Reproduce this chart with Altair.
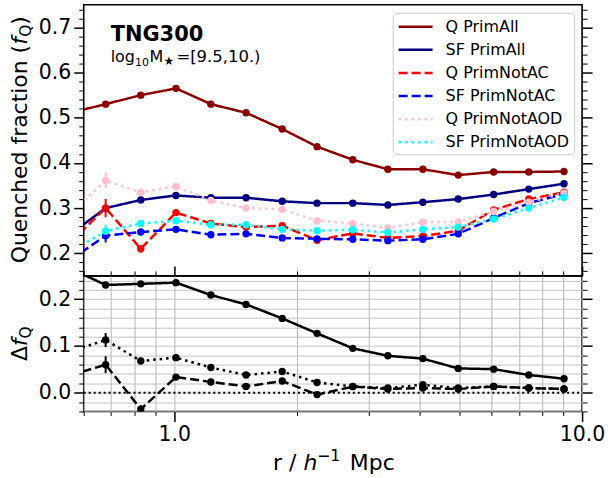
import altair as alt
import pandas as pd

# ---------------- data ----------------
r = [0.556, 0.679, 0.828, 1.01, 1.23, 1.50, 1.84, 2.24, 2.74, 3.34, 4.07, 4.97, 6.07, 7.40, 9.03]

q_primall = [0.511, 0.530, 0.550, 0.565, 0.530, 0.511, 0.475, 0.436, 0.407, 0.386, 0.386, 0.373, 0.380, 0.380, 0.381]
sf_primall = [0.242, 0.300, 0.318, 0.328, 0.323, 0.323, 0.315, 0.311, 0.311, 0.307, 0.313, 0.320, 0.330, 0.342, 0.354]
q_primnotac = [0.224, 0.300, 0.210, 0.290, 0.266, 0.258, 0.261, 0.229, 0.244, 0.234, 0.238, 0.250, 0.296, 0.320, 0.335]
sf_primnotac = [0.185, 0.239, 0.247, 0.253, 0.241, 0.243, 0.234, 0.232, 0.231, 0.228, 0.231, 0.243, 0.278, 0.311, 0.331]
q_primnotaod = [0.288, 0.361, 0.335, 0.348, 0.317, 0.300, 0.297, 0.272, 0.266, 0.256, 0.269, 0.269, 0.293, 0.313, 0.333]
sf_primnotaod = [0.203, 0.249, 0.266, 0.272, 0.263, 0.263, 0.253, 0.250, 0.252, 0.246, 0.253, 0.258, 0.276, 0.300, 0.324]

err_q_primall = [0.005, 0.006, 0.005, 0.005, 0.004, 0.004, 0.004, 0.004, 0.004, 0.004, 0.004, 0.004, 0.004, 0.004, 0.004]
err_sf_primall = [0.005, 0.006, 0.005, 0.005, 0.004, 0.004, 0.004, 0.004, 0.004, 0.004, 0.004, 0.004, 0.004, 0.004, 0.004]
err_q_primnotac = [0.015, 0.020, 0.008, 0.007, 0.005, 0.005, 0.005, 0.005, 0.004, 0.004, 0.004, 0.004, 0.004, 0.004, 0.004]
err_sf_primnotac = [0.012, 0.015, 0.006, 0.006, 0.005, 0.005, 0.004, 0.004, 0.004, 0.004, 0.004, 0.004, 0.004, 0.004, 0.004]
err_q_primnotaod = [0.015, 0.018, 0.008, 0.007, 0.005, 0.005, 0.005, 0.005, 0.004, 0.004, 0.004, 0.004, 0.004, 0.004, 0.004]
err_sf_primnotaod = [0.010, 0.013, 0.006, 0.005, 0.005, 0.004, 0.004, 0.004, 0.004, 0.004, 0.004, 0.004, 0.004, 0.004, 0.004]

d_primall = [0.266, 0.2305, 0.233, 0.2355, 0.209, 0.189, 0.159, 0.127, 0.095, 0.079, 0.073, 0.052, 0.0505, 0.038, 0.030]
d_primnotac = [0.037, 0.060, -0.035, 0.0335, 0.023, 0.0135, 0.025, -0.004, 0.013, 0.008, 0.010, 0.008, 0.0135, 0.010, 0.008]
d_primnotaod = [0.088, 0.113, 0.068, 0.075, 0.054, 0.038, 0.0455, 0.022, 0.0135, 0.010, 0.017, 0.010, 0.0135, 0.010, 0.008]

err_d_primall = [0.005, 0.005, 0.004, 0.007, 0.004, 0.004, 0.004, 0.004, 0.004, 0.004, 0.004, 0.004, 0.004, 0.004, 0.004]
err_d_primnotac = [0.015, 0.018, 0.008, 0.006, 0.005, 0.005, 0.005, 0.005, 0.005, 0.005, 0.005, 0.005, 0.004, 0.004, 0.004]
err_d_primnotaod = [0.012, 0.015, 0.007, 0.006, 0.005, 0.005, 0.005, 0.005, 0.005, 0.005, 0.005, 0.005, 0.004, 0.004, 0.004]

series_top = ["Q PrimAll", "SF PrimAll", "Q PrimNotAC", "SF PrimNotAC", "Q PrimNotAOD", "SF PrimNotAOD"]
values_top = [q_primall, sf_primall, q_primnotac, sf_primnotac, q_primnotaod, sf_primnotaod]
errors_top = [err_q_primall, err_sf_primall, err_q_primnotac, err_sf_primnotac, err_q_primnotaod, err_sf_primnotaod]
colors_top = ["#8b0000", "#000080", "#ff0000", "#0000ff", "#ffc0cb", "#00ffff"]
dashes_top = [[1, 0], [1, 0], [9, 4], [9, 4], [2.5, 4], [2.5, 4]]

series_bot = ["PrimAll", "PrimNotAC", "PrimNotAOD"]
values_bot = [d_primall, d_primnotac, d_primnotaod]
errors_bot = [err_d_primall, err_d_primnotac, err_d_primnotaod]
dashes_bot = [[1, 0], [9, 4], [2.5, 4]]

x_ticks = [0.6, 0.7, 0.8, 0.9, 1, 2, 3, 4, 5, 6, 7, 8, 9, 10]
y_ticks_top = [round(i * 0.02, 2) for i in range(8, 38)]
y_ticks_bot = [round(i * 0.02, 2) for i in range(-2, 13)]

# ---------------- tables ----------------
rows = []
for s, vals, errs in zip(series_top, values_top, errors_top):
    for ri, v, e in zip(r, vals, errs):
        rows.append({"r": ri, "f": v, "err": e, "series": s})
top_df = pd.DataFrame(rows)

rows = []
for s, vals, errs in zip(series_bot, values_bot, errors_bot):
    for ri, v, e in zip(r, vals, errs):
        rows.append({"r": ri, "d": v, "err": e, "series": s})
bot_df = pd.DataFrame(rows)

one = pd.DataFrame({"k": [0]})

FONT = "DejaVu Sans"
W, HT, HB = 500, 272, 136

MAJ_Y = "abs(datum.value*10 - round(datum.value*10)) < 1e-6"
MAJ_X = "abs(datum.value-1) < 1e-6 || abs(datum.value-10) < 1e-6"


def cond(test, a, b):
    return {"condition": {"test": test, "value": a}, "value": b}


xs = alt.Scale(type="log", domain=[0.6, 10], nice=False)
ys_top = alt.Scale(domain=[0.15, 0.75], nice=False, zero=False)
ys_bot = alt.Scale(domain=[-0.04, 0.25], nice=False, zero=False)


def make_yaxis(values, orient, labels, grid=False):
    return alt.Axis(
        orient=orient, values=values, title=None, domain=False,
        labels=labels,
        labelExpr=f"{MAJ_Y} ? format(datum.value, '.1f') : ''",
        labelFontSize=cond(MAJ_Y, 20.5, 1), labelFont=FONT, labelColor="black", labelPadding=3,
        labelOverlap=False, labelBound=False,
        tickColor="black", tickSize=cond(MAJ_Y, 10, 5), tickWidth=cond(MAJ_Y, 1.5, 1),
        grid=grid, gridColor="#c4c4c4", gridWidth=1,
    )


def make_xaxis(orient, labels, grid=False, minor=4):
    return alt.Axis(
        orient=orient, values=x_ticks, title=None, domain=False,
        labels=labels,
        labelExpr="abs(datum.value-1) < 1e-6 ? '1.0' : (abs(datum.value-10) < 1e-6 ? '10.0' : '')",
        labelFontSize=cond(MAJ_X, 20.5, 1), labelFont=FONT, labelColor="black", labelPadding=3,
        labelOverlap=False, labelBound=False, labelFlush=False,
        tickColor="black", tickSize=cond(MAJ_X, 10, minor), tickWidth=cond(MAJ_X, 1.5, 1),
        grid=grid, gridColor="#b4b4b4", gridWidth=1,
    )


def txt(text, x, y, size, angle=0, **kw):
    return alt.Chart(one).mark_text(
        text=text, align="left", baseline="alphabetic", fontSize=size, font=FONT,
        color="black", angle=angle, **kw
    ).encode(x=alt.value(x), y=alt.value(y))


legend = alt.Legend(
    title=None, orient="none", legendX=310, legendY=8, direction="vertical",
    fillColor="rgba(255,255,255,0.85)", strokeColor="#cccccc", cornerRadius=4, padding=4,
    symbolType="M-2,0H2", symbolSize=289, symbolStrokeWidth=2.5, symbolOffset=9,
    labelFontSize=16, labelFont=FONT, labelColor="black", rowPadding=5.2, labelOffset=20,
    labelLimit=300,
)

# ---------------- top panel ----------------
tb = alt.Chart(top_df)
x_top = alt.X("r:Q", scale=xs, axis=None)
color_scale_top = alt.Scale(domain=series_top, range=colors_top)
color_top = alt.Color("series:N", scale=color_scale_top, legend=legend)
dash_top = alt.StrokeDash("series:N", scale=alt.Scale(domain=series_top, range=dashes_top), legend=legend)

top_lines = tb.mark_line(strokeWidth=2.5, clip=True).encode(
    x=x_top,
    y=alt.Y("f:Q", scale=ys_top, axis=make_yaxis(y_ticks_top, "left", True)),
    color=color_top, strokeDash=dash_top,
)
top_err = tb.transform_calculate(lo="datum.f - datum.err", hi="datum.f + datum.err").mark_rule(
    strokeWidth=2, clip=True
).encode(x=x_top, y=alt.Y("lo:Q", scale=ys_top, axis=None), y2="hi:Q", color=color_top)

top_pts = tb.mark_circle(size=55, opacity=1, clip=True).encode(
    x=x_top, y=alt.Y("f:Q", scale=ys_top, axis=None), color=color_top
)
top_right = tb.mark_point(opacity=0, clip=True).encode(
    x=x_top, y=alt.Y("f:Q", scale=ys_top, axis=make_yaxis(y_ticks_top, "right", False))
)

top_texts = [
    txt("TNG300", 27, 36, 21, fontWeight="bold"),
    txt("log", 27, 57, 16),
    txt("10", 51.5, 61, 11),
    txt("M", 66, 57, 16),
    txt("★", 80, 60, 12),
    txt("=[9.5,10.)", 93, 57, 16.5),
    # y title: Quenched fraction (f_Q)
    txt("Quenched fraction (", -57, 259.4, 22, angle=270),
    txt("f", -57, 40.0, 22, angle=270, fontStyle="italic"),
    txt("Q", -53, 32.0, 15.4, angle=270),
    txt(")", -57, 20.0, 22, angle=270),
]

top = alt.layer(top_lines, top_err, top_pts, top_right, *top_texts).resolve_axis(
    y="independent"
).properties(width=W, height=HT)

# ---------------- bottom panel ----------------
bb = alt.Chart(bot_df)
dash_bot = alt.StrokeDash("series:N", scale=alt.Scale(domain=series_bot, range=dashes_bot), legend=None)

bot_zero = alt.Chart(one).mark_rule(strokeDash=[2, 3], strokeWidth=2, color="black").encode(
    y=alt.YDatum(0, scale=ys_bot, axis=None), x=alt.value(0), x2=alt.value(W)
)
bot_err = bb.transform_calculate(lo="datum.d - datum.err", hi="datum.d + datum.err").mark_rule(
    strokeWidth=2, clip=True, color="black"
).encode(x=alt.X("r:Q", scale=xs, axis=None), y=alt.Y("lo:Q", scale=ys_bot, axis=None), y2="hi:Q")

bot_lines = bb.mark_line(strokeWidth=2.5, clip=True, color="black").encode(
    x=alt.X("r:Q", scale=xs, axis=make_xaxis("bottom", True, grid=True)),
    y=alt.Y("d:Q", scale=ys_bot, axis=make_yaxis(y_ticks_bot, "left", True, grid=True)),
    strokeDash=dash_bot, detail="series:N",
)
bot_pts = bb.mark_circle(size=55, opacity=1, clip=True, color="black").encode(
    x=alt.X("r:Q", scale=xs, axis=None), y=alt.Y("d:Q", scale=ys_bot, axis=None)
)
bot_other = bb.mark_point(opacity=0, clip=True).encode(
    x=alt.X("r:Q", scale=xs, axis=make_xaxis("top", False, minor=5)),
    y=alt.Y("d:Q", scale=ys_bot, axis=make_yaxis(y_ticks_bot, "right", False)),
)

bot_texts = [
    txt("Δ", -57, 85.5, 22, angle=270),
    txt("f", -57, 70.5, 22, angle=270, fontStyle="italic"),
    txt("Q", -53, 62.8, 15.4, angle=270),
    txt("r / ", 190, 195, 22),
    txt("h", 220.4, 195, 22, fontStyle="italic"),
    txt("−1", 234, 186, 16),
    txt("Mpc", 267, 195, 22),
]

bottom = alt.layer(bot_zero, bot_err, bot_lines, bot_pts, bot_other, *bot_texts).resolve_axis(
    x="independent", y="independent"
).properties(width=W, height=HB)

chart = alt.vconcat(top, bottom, spacing=0, bounds="flush").resolve_scale(
    color="independent", strokeDash="independent"
).properties(
    padding={"left": 8, "top": 3, "right": 2, "bottom": 0}
).configure(font=FONT).configure_view(stroke="black", strokeWidth=1.6)

chart.save("out.html", embed_options={"renderer": "svg", "actions": False})
